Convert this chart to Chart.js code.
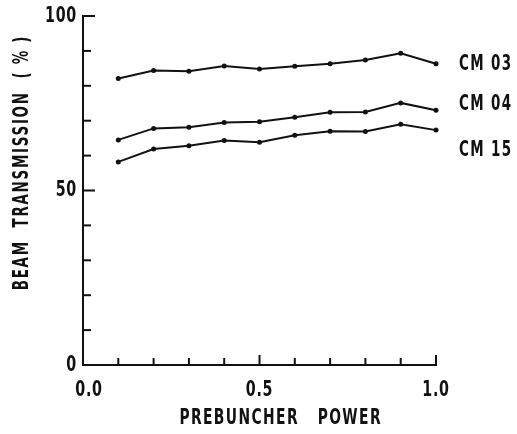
<!DOCTYPE html>
<html>
<head>
<meta charset="utf-8">
<script src="https://cdn.jsdelivr.net/npm/chart.js@4.4.1/dist/chart.umd.min.js"></script>
<style>
  html, body { margin: 0; padding: 0; background: #fff; }
  #wrap { width: 517px; height: 434px; }
</style>
</head>
<body>
<div id="wrap"><canvas id="grafico"></canvas></div>
<script>
// Datos
const prebuncherPower = [0.1, 0.2, 0.3, 0.4, 0.5, 0.6, 0.7, 0.8, 0.9, 1.0];
const cm03 = [82.1, 84.4, 84.2, 85.7, 84.8, 85.6, 86.3, 87.4, 89.3, 86.3];
const cm04 = [64.5, 67.8, 68.1, 69.5, 69.7, 71.0, 72.4, 72.5, 75.1, 73.0];
const cm15 = [58.2, 61.9, 62.8, 64.3, 63.8, 65.8, 67.0, 66.9, 69.0, 67.3];
const seriesNames = ["CM 03", "CM 04", "CM 15"];
const yTitle = "BEAM  TRANSMISSION  ( % )";
const xTitle = "PREBUNCHER   POWER";

const FONT = '"DejaVu Sans Condensed", "DejaVu Sans", sans-serif';
const INK = "#111";

function puntos(valores) {
    return prebuncherPower.map((x, i) => ({ x: x, y: valores[i] }));
}

function serie(label, valores) {
    return {
        label: label,
        data: puntos(valores),
        borderColor: INK,
        backgroundColor: INK,
        borderWidth: 2,
        pointRadius: 2.5,
        pointBorderWidth: 0,
        tension: 0,
        clip: false
    };
}

// Texto estrecho (la figura usa una letra muy condensada)
function textoEstrecho(ctx, texto, x, y, align, size, sx, espacio) {
    ctx.save();
    ctx.font = "bold " + size + "px " + FONT;
    ctx.letterSpacing = espacio + "px";
    ctx.textAlign = align;
    ctx.textBaseline = "middle";
    ctx.translate(x, y);
    ctx.scale(sx, 1);
    ctx.fillText(texto, 0, 0);
    ctx.restore();
}

// Marcas de escala hacia dentro, etiquetas y titulos
const decoracion = {
    id: "decoracion",
    afterDraw(chart) {
        const ctx = chart.ctx;
        const area = chart.chartArea;
        const xs = chart.scales.x;
        const ys = chart.scales.y;
        ctx.save();
        ctx.strokeStyle = INK;
        ctx.fillStyle = INK;
        ctx.lineWidth = 2;

        ys.ticks.forEach(t => {
            const py = ys.getPixelForValue(t.value);
            const mayor = t.value % 50 === 0;
            ctx.beginPath();
            ctx.moveTo(area.left, py);
            ctx.lineTo(area.left + (mayor ? 12 : 8), py);
            ctx.stroke();
            if (mayor) textoEstrecho(ctx, String(t.value), area.left - 6, py, "right", 22, 0.72, 1);
        });
        xs.ticks.forEach(t => {
            const px = xs.getPixelForValue(t.value);
            const r = Math.round(t.value * 10);
            const mayor = r % 5 === 0;
            ctx.beginPath();
            ctx.moveTo(px, area.bottom);
            ctx.lineTo(px, area.bottom - (mayor ? 10 : 7));
            ctx.stroke();
            if (mayor) textoEstrecho(ctx, (r / 10).toFixed(1), px + (r === 0 ? 6 : 0), area.bottom + 25, "center", 22, 0.72, 1);
        });

        // Etiquetas a la derecha de cada serie
        const desplaz = [0, -6, 20];
        chart.data.datasets.forEach((ds, i) => {
            const meta = chart.getDatasetMeta(i);
            const ultimo = meta.data[meta.data.length - 1];
            textoEstrecho(ctx, seriesNames[i], ultimo.x + 23, ultimo.y + desplaz[i], "left", 22, 0.68, 2);
        });

        // Titulos de ejes
        textoEstrecho(ctx, xTitle, area.left + (area.right - area.left) * 0.56, area.bottom + 53, "center", 22, 0.7, 2);

        ctx.translate(22, area.top + (area.bottom - area.top) * 0.42);
        ctx.rotate(-Math.PI / 2);
        textoEstrecho(ctx, yTitle, 0, 0, "center", 22, 0.68, 2.5);
        ctx.restore();
    }
};

const chart = new Chart(document.getElementById("grafico"), {
    type: "line",
    data: {
        datasets: [serie(seriesNames[0], cm03), serie(seriesNames[1], cm04), serie(seriesNames[2], cm15)]
    },
    options: {
        responsive: true,
        maintainAspectRatio: false,
        animation: false,
        layout: { padding: { top: 16, right: 81, left: 0, bottom: 0 } },
        plugins: {
            legend: { display: false },
            tooltip: { enabled: false }
        },
        scales: {
            x: {
                type: "linear",
                min: 0,
                max: 1,
                grid: { display: false },
                border: { display: true, color: INK, width: 2 },
                ticks: {
                    stepSize: 0.1,
                    autoSkip: false,
                    maxRotation: 0,
                    callback: () => ""
                },
                afterFit: s => { s.height = 69; }
            },
            y: {
                min: 0,
                max: 100,
                grid: { display: false },
                border: { display: true, color: INK, width: 2 },
                ticks: {
                    stepSize: 10,
                    autoSkip: false,
                    callback: () => ""
                },
                afterFit: s => { s.width = 83; }
            }
        }
    },
    plugins: [decoracion]
});
</script>
</body>
</html>
